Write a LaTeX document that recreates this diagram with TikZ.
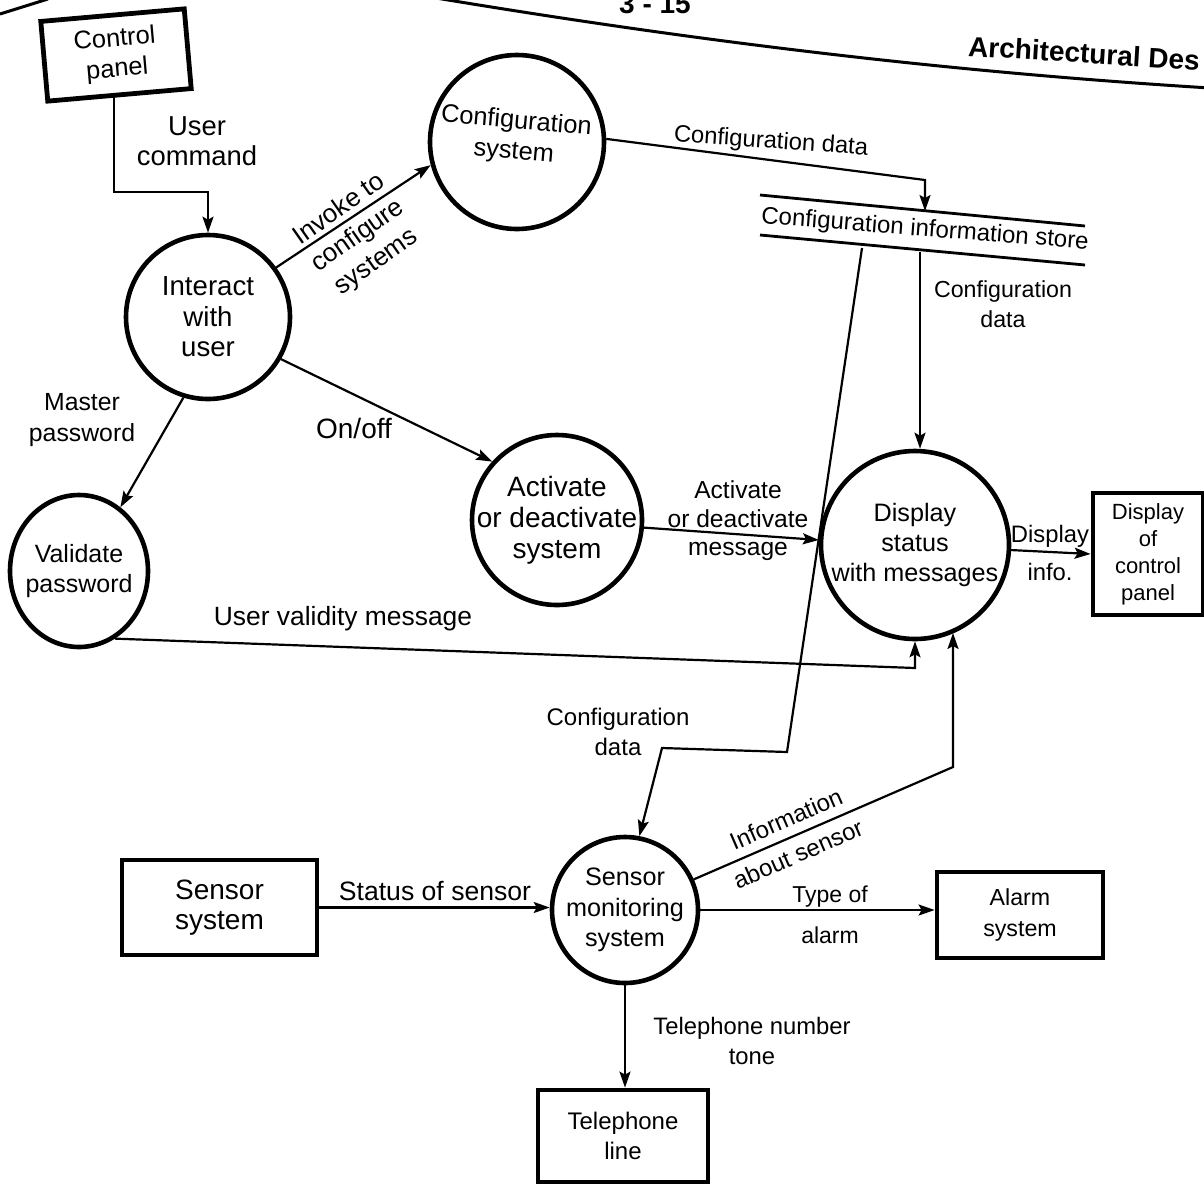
\documentclass[tikz,border=0pt]{standalone}
\usepackage{fontspec}
\setmainfont{Liberation Sans}
\usetikzlibrary{arrows.meta,shapes.geometric}
\begin{document}
\begin{tikzpicture}[x=0.5pt,y=-0.5pt,
  fs/.style={font=\fontsize{#1}{15.2}\selectfont},
  every node/.style={fs=12.5, align=center, inner sep=0pt},
  proc/.style={circle, draw, line width=2.3pt, minimum size=#1},
  extbox/.style n args={2}{rectangle, draw, line width=2.4pt, minimum width=#1, minimum height=#2},
  flow/.style={line width=1.1pt, -{Stealth[length=8pt,width=5.5pt,inset=1.5pt]}},
  header/.style={font=\bfseries\fontsize{14}{16}\selectfont}
]
\useasboundingbox (0,0) rectangle (1204,1184);
\clip (0,0) rectangle (1204,1184);

% page header
\draw[line width=1.5pt] (0,14) -- (48,-1);
\draw[line width=1.5pt] (430,-3) .. controls (700,42) and (950,72) .. (1210,88);
\node[header, anchor=base] (pg) at (655,13) {3 - 15};
\node[header, anchor=west, rotate=-3.5] (hdr) at (968,46) {Architectural Des};

% external entities
\node[extbox={72pt}{40pt}, rotate=5, fs=12.7] (cp) at (116,55) {Control\\panel};
\node[extbox={97.5pt}{47.5pt}, fs=14] (ss) at (219.5,907.5) {Sensor\\system};
\node[extbox={83pt}{43pt}, fs=11.6] (alarm) at (1020,915) {Alarm\\system};
\node[extbox={55pt}{61pt}, font=\fontsize{11}{13.5}\selectfont] (dcp) at (1148,554) {Display\\of\\control\\panel};
\node[extbox={85pt}{46pt}, fs=12] (tel) at (623,1136) {Telephone\\line};

% processes
\node[proc=82pt, fs=13.8] (inter) at (208,317) {Interact\\with\\user};
\node[proc=87pt] (conf) at (517,142) {};
\node[rotate=-5, fs=12.7] (conftext) at (515,137) {Configuration\\system};
\node[proc=85pt, inner sep=-6pt, font=\fontsize{14}{15.5}\selectfont] (act) at (557,520) {Activate\\or deactivate\\system};
\node[ellipse, draw, line width=2.3pt, minimum width=69pt, minimum height=76pt, inner sep=-8pt] (val) at (79,571) {Validate\\password};
\node[proc=94pt, fs=12.6] (disp) at (915,545) {Display\\status\\with messages};
\node[proc=73pt, fs=12.6] (sens) at (625,910) {Sensor\\monitoring\\system};

% data store
\coordinate (s1a) at (760,195);
\coordinate (s1b) at (1085,226);
\coordinate (s2a) at (760,235);
\coordinate (s2b) at (1085,265);
\draw[line width=1.4pt] (s1a) -- (s1b);
\draw[line width=1.4pt] (s2a) -- (s2b);
\node[rotate=-4.5, fs=12] (store) at (925,230) {Configuration information store};

% bend points
\coordinate (uc) at (208,192);
\coordinate (cbend) at (925,180);
\coordinate (sin) at (925,211);
\coordinate (so1) at (862,248);
\coordinate (so2) at (920,252);
\coordinate (cd1) at (787,752);
\coordinate (cd2) at (662,748);
\coordinate (vb) at (915,668);
\coordinate (ib) at (953,767);

% data flows
\draw[flow] ([xshift=-3pt]cp.south) |- (uc) -- (inter.north);
\draw[flow] (inter.36) -- (conf.195);
\draw[flow] (conf.2) -- (cbend) -- (sin);
\draw[flow] (so2) -- (so2 |- disp.north);
\draw[flow] (so1) -- (cd1) -- (cd2) -- (sens.79);
\draw[flow] (inter.-30) -- (act.138);
\draw[flow] (inter.253) -- (val.57);
\draw[flow] (act.-5) -- (disp.177);
\draw[flow] (disp.-3) -- (dcp.west);
\draw[flow] (val.-62) -- (vb) -- (disp.south);
\draw[flow] (sens.24) -- (ib) -- (ib |- disp.-66);
\draw[flow] (ss.east) -- (ss.east -| sens.west);
\draw[flow] (sens.east) -- (sens.east -| alarm.west);
\draw[flow] (sens.south) -- (sens.south |- tel.north);

% flow labels
\node[fs=13.7] (l_uc) at (197,141) {User\\command};
\node[rotate=35, font=\fontsize{13}{16}\selectfont] (l_inv) at (358,236) {Invoke to\\configure\\systems};
\node[rotate=-4, fs=11.9] (l_cd1) at (771,142) {Configuration data};
\node[fs=11.6] (l_cd2) at (1003,304) {Configuration\\data};
\node[fs=12.4] (l_mp) at (82,420) {Master\\password};
\node[fs=14] (l_on) at (354,428) {On/off};
\node[font=\fontsize{12.3}{14.3}\selectfont] (l_adm) at (738,521) {Activate\\or deactivate\\message};
\node[fs=13.2] (l_uv) at (343,619) {User validity message};
\node[fs=11.9] (l_di) at (1050,553) {Display\\[3.5pt]info.};
\node[fs=12] (l_cd3) at (618,732) {Configuration\\data};
\node[rotate=23.5, fs=12] (l_info1) at (786,819) {Information};
\node[rotate=23.5, fs=12] (l_info2) at (798,854) {about sensor};
\node[fs=13.3] (l_ss) at (435,891) {Status of sensor};
\node[fs=11.5] (l_to) at (830,897) {Type of};
\node[fs=11.5] (l_al) at (830,935) {alarm};
\node[fs=11.9] (l_tel) at (752,1041) {Telephone number\\tone};
\end{tikzpicture}
\end{document}
